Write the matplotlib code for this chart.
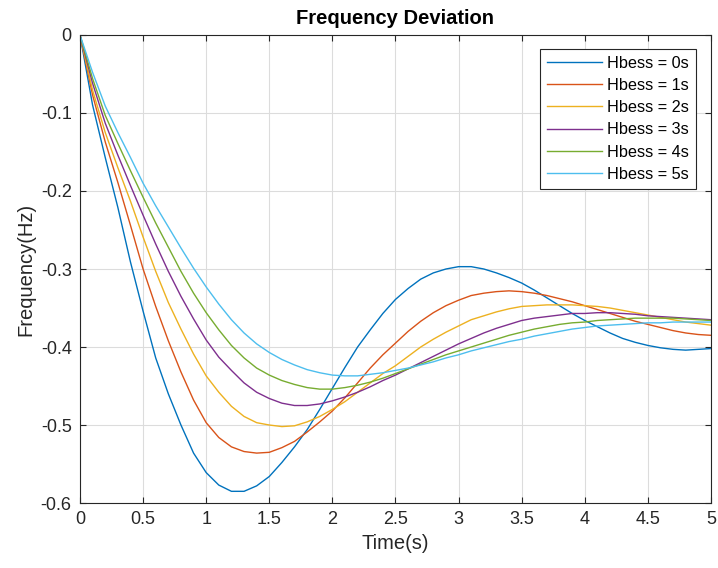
import matplotlib

matplotlib.use("Agg")
import matplotlib.pyplot as plt
from matplotlib.ticker import FuncFormatter


# simulation time (s), 0.1 s step
time_s = [round(0.1 * i, 1) for i in range(51)]

# frequency deviation (Hz), one list per Hbess value
hbess_0 = [
    0.0, -0.090, -0.157, -0.221, -0.291, -0.354, -0.414, -0.460, -0.500, -0.536,
    -0.561, -0.577, -0.585, -0.585, -0.578, -0.566, -0.548, -0.528, -0.506, -0.480,
    -0.453, -0.426, -0.400, -0.378, -0.357, -0.339, -0.325, -0.313, -0.305, -0.300,
    -0.297, -0.297, -0.300, -0.305, -0.311, -0.318, -0.327, -0.337, -0.347, -0.357,
    -0.366, -0.374, -0.382, -0.389, -0.394, -0.398, -0.401, -0.403, -0.404, -0.403,
    -0.402,
]
hbess_1 = [
    0.0, -0.077, -0.137, -0.189, -0.244, -0.300, -0.348, -0.392, -0.432, -0.468,
    -0.497, -0.516, -0.528, -0.534, -0.536, -0.535, -0.529, -0.521, -0.509, -0.496,
    -0.482, -0.465, -0.446, -0.427, -0.410, -0.395, -0.380, -0.367, -0.356, -0.347,
    -0.340, -0.334, -0.331, -0.329, -0.328, -0.329, -0.331, -0.334, -0.338, -0.342,
    -0.347, -0.352, -0.357, -0.362, -0.367, -0.371, -0.375, -0.379, -0.382, -0.384,
    -0.385,
]
hbess_2 = [
    0.0, -0.071, -0.125, -0.170, -0.213, -0.259, -0.303, -0.343, -0.377, -0.409,
    -0.437, -0.458, -0.476, -0.489, -0.497, -0.500, -0.502, -0.501, -0.496, -0.489,
    -0.480, -0.470, -0.458, -0.446, -0.434, -0.424, -0.412, -0.400, -0.390, -0.381,
    -0.373, -0.365, -0.360, -0.355, -0.351, -0.348, -0.347, -0.346, -0.346, -0.346,
    -0.347, -0.348, -0.350, -0.353, -0.356, -0.359, -0.362, -0.365, -0.368, -0.370,
    -0.372,
]
hbess_3 = [
    0.0, -0.062, -0.113, -0.154, -0.193, -0.231, -0.268, -0.303, -0.335, -0.364,
    -0.391, -0.413, -0.430, -0.446, -0.458, -0.466, -0.472, -0.475, -0.475, -0.473,
    -0.469, -0.464, -0.458, -0.451, -0.443, -0.436, -0.428, -0.420, -0.412, -0.404,
    -0.396, -0.389, -0.382, -0.376, -0.371, -0.366, -0.363, -0.361, -0.359, -0.357,
    -0.357, -0.356, -0.356, -0.357, -0.358, -0.360, -0.361, -0.362, -0.363, -0.364,
    -0.365,
]
hbess_4 = [
    0.0, -0.056, -0.103, -0.139, -0.174, -0.208, -0.241, -0.272, -0.303, -0.331,
    -0.356, -0.378, -0.398, -0.414, -0.427, -0.436, -0.443, -0.448, -0.452, -0.454,
    -0.454, -0.452, -0.449, -0.445, -0.440, -0.434, -0.428, -0.422, -0.416, -0.410,
    -0.405, -0.400, -0.395, -0.390, -0.385, -0.381, -0.377, -0.374, -0.371, -0.369,
    -0.368, -0.366, -0.365, -0.364, -0.363, -0.363, -0.363, -0.363, -0.364, -0.365,
    -0.366,
]
hbess_5 = [
    0.0, -0.048, -0.091, -0.125, -0.157, -0.190, -0.219, -0.246, -0.273, -0.299,
    -0.323, -0.345, -0.365, -0.382, -0.396, -0.407, -0.416, -0.423, -0.429, -0.433,
    -0.436, -0.437, -0.437, -0.435, -0.433, -0.430, -0.427, -0.423, -0.419, -0.414,
    -0.410, -0.405, -0.401, -0.397, -0.393, -0.390, -0.386, -0.383, -0.380, -0.377,
    -0.375, -0.373, -0.372, -0.371, -0.370, -0.369, -0.369, -0.368, -0.368, -0.368,
    -0.368,
]

series = [hbess_0, hbess_1, hbess_2, hbess_3, hbess_4, hbess_5]
labels = ["Hbess = 0s", "Hbess = 1s", "Hbess = 2s", "Hbess = 3s", "Hbess = 4s", "Hbess = 5s"]
colors = ["#0072BD", "#D95319", "#EDB120", "#7E2F8E", "#77AC30", "#4DBEEE"]

x_ticks = [0, 0.5, 1, 1.5, 2, 2.5, 3, 3.5, 4, 4.5, 5]
y_ticks = [0, -0.1, -0.2, -0.3, -0.4, -0.5, -0.6]

plt.rcParams["font.family"] = ["Liberation Sans", "DejaVu Sans"]
plt.rcParams["axes.unicode_minus"] = False

fig = plt.figure(figsize=(7.18, 5.68), dpi=100)
ax = fig.add_axes([0.1114, 0.1144, 0.8788, 0.824])

for values, label, color in zip(series, labels, colors):
    ax.plot(time_s, values, color=color, linewidth=1.0, label=label)

ax.set_xlim(0, 5)
ax.set_ylim(-0.6, 0)
ax.set_xticks(x_ticks)
ax.set_yticks(y_ticks)
ax.xaxis.set_major_formatter(FuncFormatter(lambda v, _: f"{v:g}"))
ax.yaxis.set_major_formatter(FuncFormatter(lambda v, _: f"{v:g}" if v != 0 else "0"))

ax.grid(True, color="#dcdcdc", linewidth=0.8)
ax.set_axisbelow(True)
for spine in ax.spines.values():
    spine.set_color("#262626")
    spine.set_linewidth(0.8)
ax.tick_params(
    direction="in", length=4, width=0.8, colors="#262626",
    top=True, right=True, labelsize=13, pad=6,
)

ax.set_xlabel("Time(s)", fontsize=14.5, color="#262626", labelpad=4)
ax.set_ylabel("Frequency(Hz)", fontsize=14.5, color="#262626", labelpad=4)
ax.set_title("Frequency Deviation", fontsize=14.5, fontweight="bold", pad=8)

leg = ax.legend(
    loc="upper right", bbox_to_anchor=(0.976, 0.970), fontsize=11.7,
    handlelength=3.4, handletextpad=0.35, labelspacing=0.45,
    borderpad=0.4, borderaxespad=0, fancybox=False, framealpha=1,
)
leg.get_frame().set_edgecolor("#262626")
leg.get_frame().set_linewidth(0.8)

fig.savefig("out.png", dpi=100)
